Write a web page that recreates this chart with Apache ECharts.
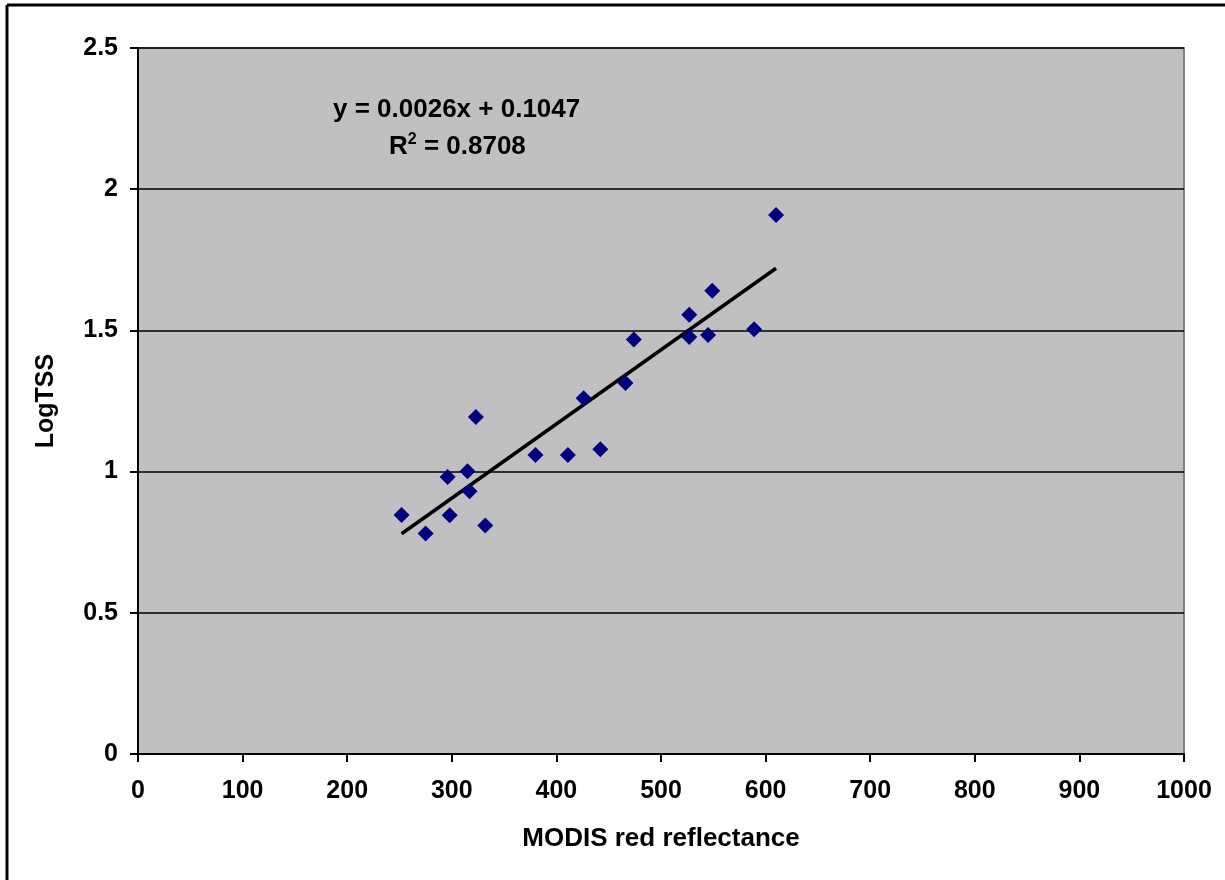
<!DOCTYPE html>
<html>
<head>
<meta charset="utf-8">
<script src="https://cdn.jsdelivr.net/npm/echarts@6/dist/echarts.min.js"></script>
<style>html,body{margin:0;padding:0;background:#fff;}#chart{width:1225px;height:880px;}</style>
</head>
<body>
<div id="chart"></div>
<script>
const redReflectance = [252, 275, 296, 298, 315, 317, 323, 332, 380, 411, 426, 442, 466, 474, 527, 527, 545, 549, 589, 610];
const logTSS = [0.846, 0.781, 0.981, 0.845, 1.001, 0.930, 1.193, 0.809, 1.059, 1.059, 1.260, 1.079, 1.314, 1.468, 1.555, 1.477, 1.484, 1.640, 1.504, 1.909];
const trendX = [252, 610];
const trendY = [0.78, 1.72];
const xTicks = [0, 100, 200, 300, 400, 500, 600, 700, 800, 900, 1000];
const yTicks = [0, 0.5, 1, 1.5, 2, 2.5];
const equationText = 'y = 0.0026x + 0.1047';
const r2Value = '0.8708';

const font = 'Liberation Sans, Arial, sans-serif';
const chart = echarts.init(document.getElementById('chart'));
chart.setOption({
  animation: false,
  backgroundColor: '#fff',
  grid: { left: 138, top: 48, right: 41, bottom: 126, show: true, backgroundColor: '#c0c0c0', borderColor: '#808080', borderWidth: 2 },
  xAxis: {
    type: 'value', min: xTicks[0], max: xTicks[xTicks.length - 1], interval: 100,
    name: 'MODIS red reflectance', nameLocation: 'middle', nameGap: 72,
    nameTextStyle: { fontFamily: font, fontWeight: 'bold', fontSize: 26, color: '#000' },
    axisLine: { lineStyle: { color: '#000', width: 2 } },
    axisTick: { show: true, length: 8, lineStyle: { color: '#000', width: 2 } },
    axisLabel: { margin: 25, fontFamily: font, fontWeight: 'bold', fontSize: 25, color: '#000', formatter: v => String(v) },
    splitLine: { show: false }
  },
  yAxis: {
    type: 'value', min: yTicks[0], max: yTicks[yTicks.length - 1], interval: 0.5,
    name: 'LogTSS', nameLocation: 'middle', nameGap: 79,
    nameTextStyle: { fontFamily: font, fontWeight: 'bold', fontSize: 25, color: '#000' },
    axisLine: { lineStyle: { color: '#000', width: 2 } },
    axisTick: { show: true, length: 8, lineStyle: { color: '#000', width: 2 } },
    axisLabel: { margin: 20, fontFamily: font, fontWeight: 'bold', fontSize: 25, color: '#000', formatter: v => String(v) },
    splitLine: { show: true, lineStyle: { color: '#000', width: 1.5 } }
  },
  series: [
    {
      type: 'line',
      data: trendX.map((x, i) => [x, trendY[i]]),
      symbol: 'none',
      lineStyle: { color: '#000', width: 3.5 },
      z: 2
    },
    {
      type: 'scatter',
      data: redReflectance.map((x, i) => [x, logTSS[i]]),
      symbol: 'diamond',
      symbolSize: 16,
      itemStyle: { color: '#000080', opacity: 1 },
      z: 3
    }
  ],
  graphic: [
    { type: 'line', shape: { x1: 7, y1: 5, x2: 1225, y2: 5 }, style: { stroke: '#000', lineWidth: 3 } },
    { type: 'line', shape: { x1: 7, y1: 5, x2: 7, y2: 880 }, style: { stroke: '#000', lineWidth: 3 } },
    {
      type: 'text', left: 333, top: 97, z: 10,
      style: { text: equationText, fontFamily: font, fontWeight: 'bold', fontSize: 26, fill: '#000' }
    },
    {
      type: 'text', left: 389, top: 132, z: 10,
      style: {
        text: '{a|R}{s|2}{a| = ' + r2Value + '}',
        rich: {
          a: { fontFamily: font, fontWeight: 'bold', fontSize: 26, fill: '#000', verticalAlign: 'bottom' },
          s: { fontFamily: font, fontWeight: 'bold', fontSize: 16, fill: '#000', verticalAlign: 'top', padding: [0, 0, 12, 0] }
        }
      }
    }
  ]
});
</script>
</body>
</html>
